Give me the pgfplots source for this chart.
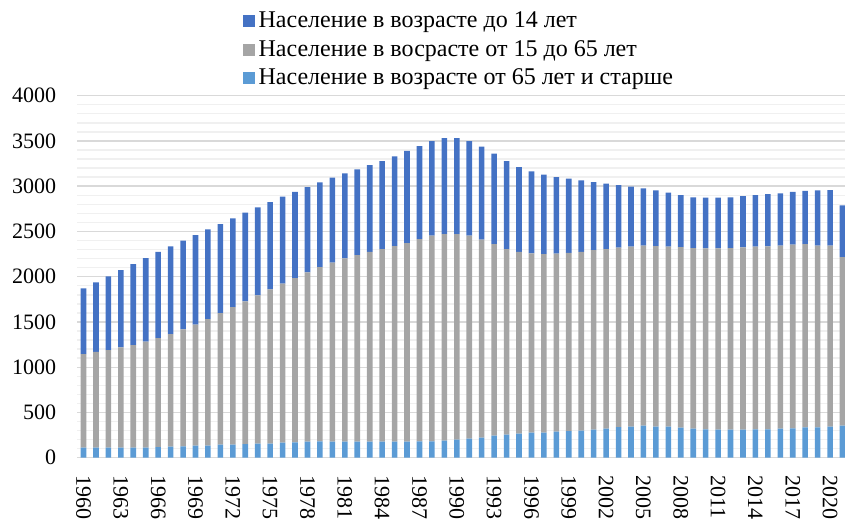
\documentclass[border=0pt]{standalone}
\usepackage{fontspec}
\setmainfont{Liberation Serif}
\usepackage{pgfplots}
\usepackage{pgfplotstable}
\pgfplotsset{compat=1.18}

\definecolor{young}{HTML}{4472C4}
\definecolor{mid}{HTML}{A5A5A5}
\definecolor{old}{HTML}{5B9BD5}

% year, 65+, 15-65, 0-14
\pgfplotstableread{
year old mid young
1960 110 1035 726
1961 110 1058 769
1962 110 1080 814
1963 110 1109 855
1964 110 1135 895
1965 110 1172 924
1966 118 1204 951
1967 122 1244 969
1968 125 1293 980
1969 133 1337 990
1970 133 1399 991
1971 144 1454 984
1972 144 1521 980
1973 151 1576 980
1974 155 1639 972
1975 155 1705 965
1976 166 1757 961
1977 169 1816 951
1978 177 1871 943
1979 180 1927 935
1980 177 1978 939
1981 177 2026 939
1982 177 2062 947
1983 177 2096 961
1984 177 2129 972
1985 177 2162 991
1986 177 2195 1017
1987 180 2236 1028
1988 180 2273 1046
1989 188 2283 1061
1990 199 2272 1061
1991 210 2243 1046
1992 221 2188 1027
1993 243 2118 998
1994 254 2052 972
1995 265 2008 939
1996 276 1982 906
1997 276 1974 877
1998 287 1967 847
1999 295 1967 821
2000 298 1975 791
2001 309 1986 751
2002 320 1986 722
2003 339 1981 693
2004 343 1988 663
2005 354 1989 633
2006 343 1996 615
2007 343 1988 597
2008 331 1997 574
2009 320 1997 560
2010 313 2000 560
2011 309 2004 560
2012 309 2008 560
2013 309 2015 567
2014 313 2018 571
2015 313 2022 578
2016 320 2023 578
2017 324 2030 582
2018 335 2026 586
2019 335 2008 611
2020 343 2000 615
2021 354 1863 571
}\pop

\begin{document}
\begin{tikzpicture}
\path[use as bounding box] (-38.65pt,-31.15pt) rectangle (383.85pt,228.85pt);
\begin{axis}[
    scale only axis,
    width=383.85pt, height=181pt,
    ybar stacked, bar width=2.8pt,
    xmin=1959.5, xmax=2021.2,
    ymin=0, ymax=4000,
    xtick={1960,1963,...,2020},
    ytick={0,500,...,4000},
    minor y tick num=4,
    ymajorgrids, yminorgrids,
    major grid style={draw=black!15, line width=0.7pt},
    minor grid style={draw=black!6, line width=0.7pt},
    axis line style={draw=none},
    major tick length=0pt, minor tick length=0pt,
    /pgf/number format/assume math mode=true,
    /pgf/number format/1000 sep={},
    tick label style={font=\fontsize{11}{13}\selectfont},
    yticklabel style={xshift=-7pt},
    xticklabel shift=5.5pt,
    xticklabel style={rotate=-90, anchor=west},
    reverse legend,
    legend style={
        at={(0.207,1.255)}, anchor=north west,
        draw=none, fill=none,
        font=\fontsize{12}{13.5}\selectfont,
        cells={anchor=west},
        row sep=0.8pt,
        /tikz/every odd column/.style={inner xsep=1pt},
    },
    legend image code/.code={\fill[#1] (0pt,-3pt) rectangle (6pt,3pt);},
]
\addplot[fill=old, draw=none] table[x=year, y=old] {\pop};
\addplot[fill=mid, draw=none] table[x=year, y=mid] {\pop};
\addplot[fill=young, draw=none] table[x=year, y=young] {\pop};
\legend{Население в возрасте от 65 лет и старше,
        Население в восрасте от 15 до 65 лет,
        Население в возрасте до 14 лет}
\end{axis}
\end{tikzpicture}
\end{document}
